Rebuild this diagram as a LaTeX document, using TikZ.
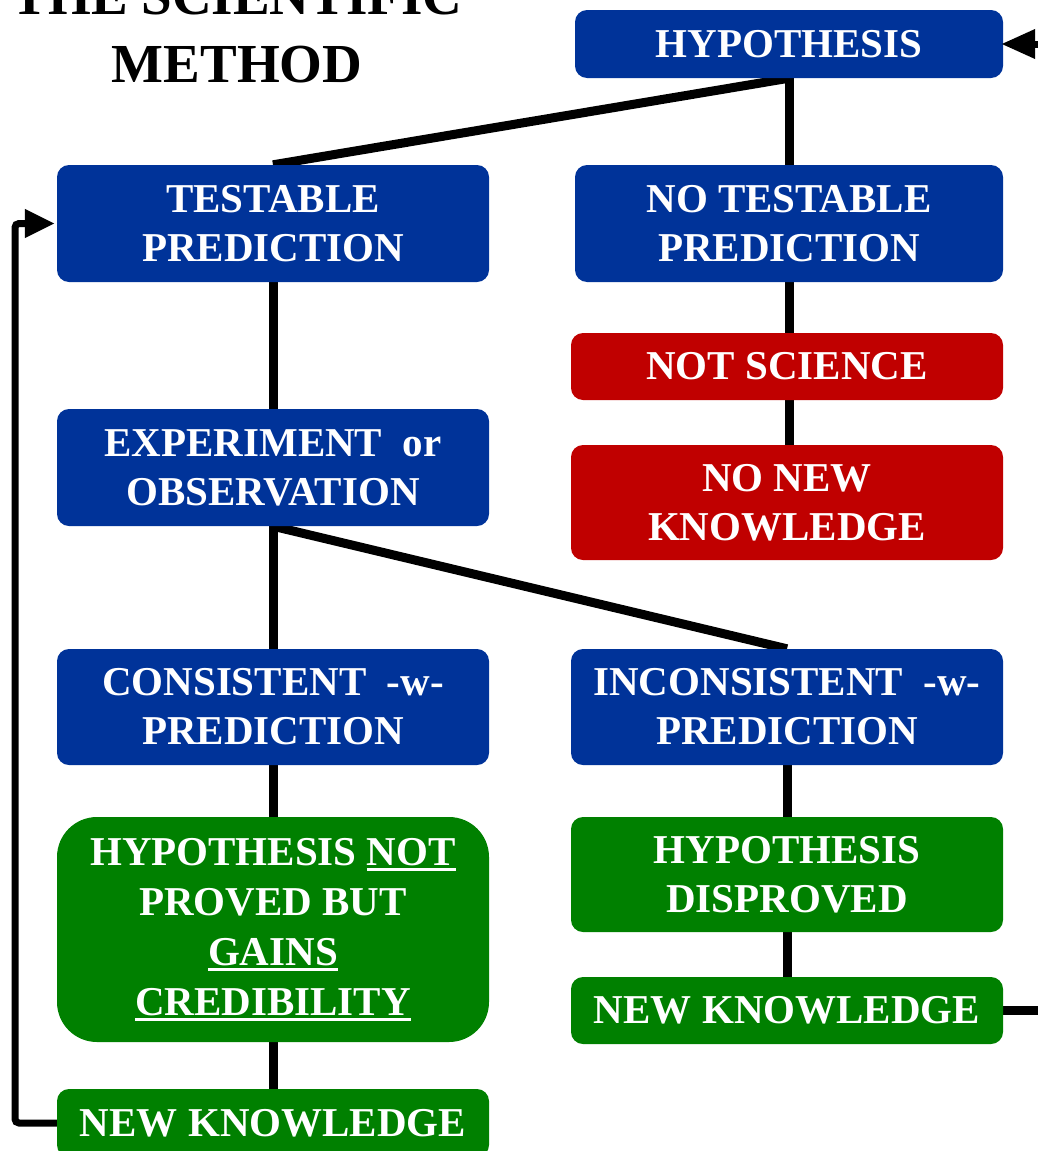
\documentclass[tikz,border=0pt]{standalone}
\usepackage{fontspec}
\setmainfont{Liberation Serif}
\usepackage{tikz}
\usetikzlibrary{calc,arrows.meta,backgrounds}
\definecolor{sblue}{RGB}{0,51,153}
\definecolor{sred}{RGB}{192,0,0}
\definecolor{sgreen}{RGB}{0,128,0}
\newcommand\bxfont{\fontsize{41}{49}\selectfont\bfseries}
\newcommand\ulw[1]{\setbox0=\hbox{#1}\rlap{\rule[-6pt]{\wd0}{3.5pt}}\box0}

\begin{document}
\begin{tikzpicture}[x=1pt,y=-1pt]
        \tikzstyle{every node}=[inner sep=0pt, align=center, text=white, font=\bxfont, rounded corners=12pt]
        \tikzstyle{bbox}=[fill=sblue, minimum width=432pt]
        \tikzstyle{rbox}=[fill=sred, minimum width=432pt]
        \tikzstyle{gbox}=[fill=sgreen, minimum width=432pt]
        \tikzstyle{lnk}=[line width=9pt]
        \tikzstyle{loop}=[line width=7pt, rounded corners=4pt]
        \useasboundingbox (0,0) rectangle (1038,1151);
        \clip (0,0) rectangle (1038,1151);
        % title
        \node[text=black, anchor=base, font=\fontsize{55}{68}\selectfont\bfseries] (title) at (237,82) {THE SCIENTIFIC\\METHOD};
        % right column
        \node[bbox, minimum width=428pt, minimum height=68pt] (hyp) at (789,44) {HYPOTHESIS};
        \node[bbox, minimum width=428pt, minimum height=117pt] (notest) at (789,223.5) {NO TESTABLE\\PREDICTION};
        \node[rbox, minimum height=67pt] (notsci) at (787,366.5) {NOT SCIENCE};
        \node[rbox, minimum height=115pt] (nonew) at (787,502.5) {NO NEW\\KNOWLEDGE};
        \node[bbox, minimum height=116pt] (incons) at (787,707) {INCONSISTENT\enspace-w-\\PREDICTION};
        \node[gbox, minimum height=115pt] (disprv) at (787,874.5) {HYPOTHESIS\\DISPROVED};
        \node[gbox, minimum height=67pt] (newr) at (787,1010.5) {NEW KNOWLEDGE};
        % left column
        \node[bbox, minimum height=117pt] (test) at (273,223.5) {TESTABLE\\PREDICTION};
        \node[bbox, minimum height=117pt] (expt) at (273,467.5) {EXPERIMENT\enspace or\\OBSERVATION};
        \node[bbox, minimum height=116pt] (cons) at (273,707) {CONSISTENT\enspace-w-\\PREDICTION};
        \node[gbox, minimum height=225pt, rounded corners=40pt, font=\fontsize{41}{50}\selectfont\bfseries] (credib) at (273,929.5) {HYPOTHESIS \ulw{NOT}\\PROVED BUT\\\ulw{GAINS}\\\ulw{CREDIBILITY}};
        \node[gbox, minimum height=68pt] (newl) at (273,1123) {NEW KNOWLEDGE};
        \coordinate (lft) at (15,0);
        \coordinate (rgt) at (1050,0);
        \begin{scope}[on background layer]
        \draw[lnk] (hyp.south) -- (notest.north);
        \draw[lnk] (hyp.south) -- (test.north);
        \draw[lnk] (notest.south) -- (notsci.north -| notest.south);
        \draw[lnk] (notsci.south -| notest.south) -- (nonew.north -| notest.south);
        \draw[lnk] (test.south) -- (expt.north);
        \draw[lnk] (expt.south) -- (cons.north);
        \draw[lnk] (expt.south) -- (incons.north);
        \draw[lnk] (cons.south) -- (credib.north);
        \draw[lnk] (incons.south) -- (disprv.north);
        \draw[lnk] (disprv.south) -- (newr.north);
        \draw[lnk] (credib.south) -- (newl.north);
        \draw[lnk] (newr.east) -- (newr.east -| rgt);
        \end{scope}
        % feedback arrows
        \draw[loop, -{Triangle[length=30pt, width=27pt]}, shorten >=2pt] (newl.west) -- (newl.west -| lft) |- (test.west);
        \draw[line width=7pt, -{Triangle[length=34pt, width=28pt]}, shorten >=-2pt] (hyp.east -| rgt) -- (hyp.east);
    \end{tikzpicture}
\end{document}
